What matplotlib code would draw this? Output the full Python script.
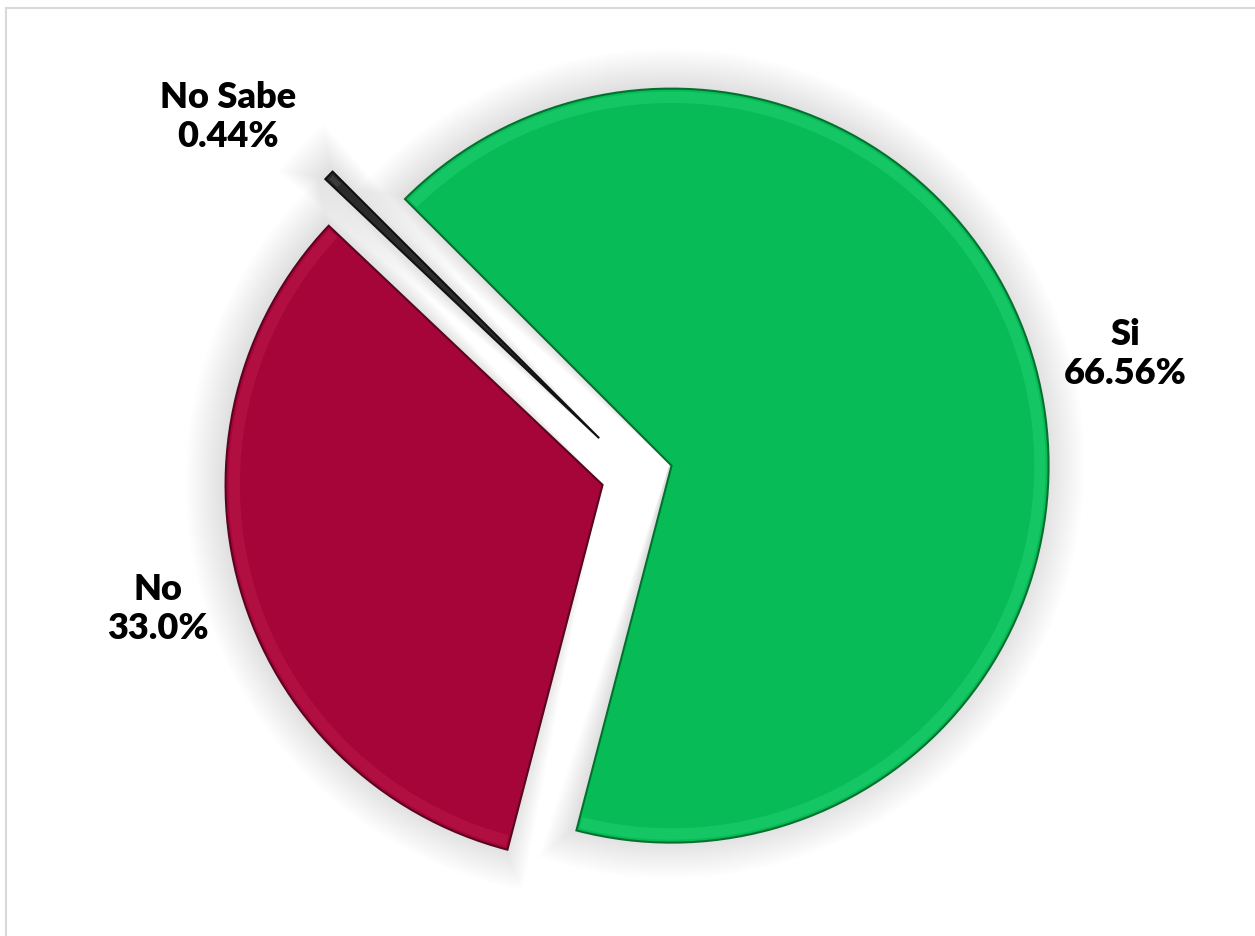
import matplotlib
matplotlib.use("Agg")
import matplotlib.pyplot as plt
from matplotlib.patches import Wedge
from matplotlib.lines import Line2D
import numpy as np

# ---- data ----
categories = ["Si", "No", "No Sabe"]
values = [66.56, 33.0, 0.44]
value_labels = ["66.56%", "33.0%", "0.44%"]
colors = ["#07BB57", "#A50538", "#2B2B2B"]
edge_colors = ["#04702F", "#5A0420", "#111111"]
band_colors = ["#35E585", "#D0245C", "#666666"]
explode_frac = [0.095, 0.095, 0.14]

W, H = 1255, 936
R = 377
fig = plt.figure(figsize=(W / 100, H / 100), dpi=100)
ax = fig.add_axes([0, 0, 1, 1])

wedges, _ = ax.pie(values, colors=colors, startangle=135, counterclock=False,
                   explode=[f * R for f in explode_frac], radius=R,
                   center=(637, H - 475), frame=True,
                   wedgeprops=dict(linewidth=1.5, zorder=3))
ax.set_xlim(0, W)
ax.set_ylim(0, H)
ax.set_aspect("equal")
ax.axis("off")

for w, ec, bc in zip(wedges, edge_colors, band_colors):
    w.set_edgecolor(ec)
    cx, cy = w.center
    r = w.r
    # soft shadow
    for i in range(16):
        ax.add_patch(Wedge((cx - 2, cy + 2), r + i * 2.5, w.theta1 - 0.25 * i, w.theta2 + 0.25 * i,
                           facecolor="#808080", edgecolor="none", alpha=0.014, zorder=1))
    # bevel band near the rim
    ax.add_patch(Wedge((cx, cy), r - 3, w.theta1 + 0.4, w.theta2 - 0.4, width=r * 0.03,
                       facecolor=bc, edgecolor="none", alpha=0.3, zorder=4))

# labels
label_pos = [(1125, 354), (158, 609), (228, 117)]
for cat, lab, (x, y) in zip(categories, value_labels, label_pos):
    ax.text(x, H - y, f"{cat}\n{lab}", ha="center", va="center",
            fontsize=26, fontweight="heavy", family=["Lato", "DejaVu Sans"],
            linespacing=1.2, color="black", zorder=6)

# light border (top and left edges of chart area)
fig.add_artist(Line2D([6 / W, 1], [1 - 8 / H, 1 - 8 / H], color="#D9D9D9", lw=1.5,
                      transform=fig.transFigure))
fig.add_artist(Line2D([6 / W, 6 / W], [0, 1 - 8 / H], color="#D9D9D9", lw=1.5,
                      transform=fig.transFigure))

fig.savefig("out.png", dpi=100, facecolor="white")
